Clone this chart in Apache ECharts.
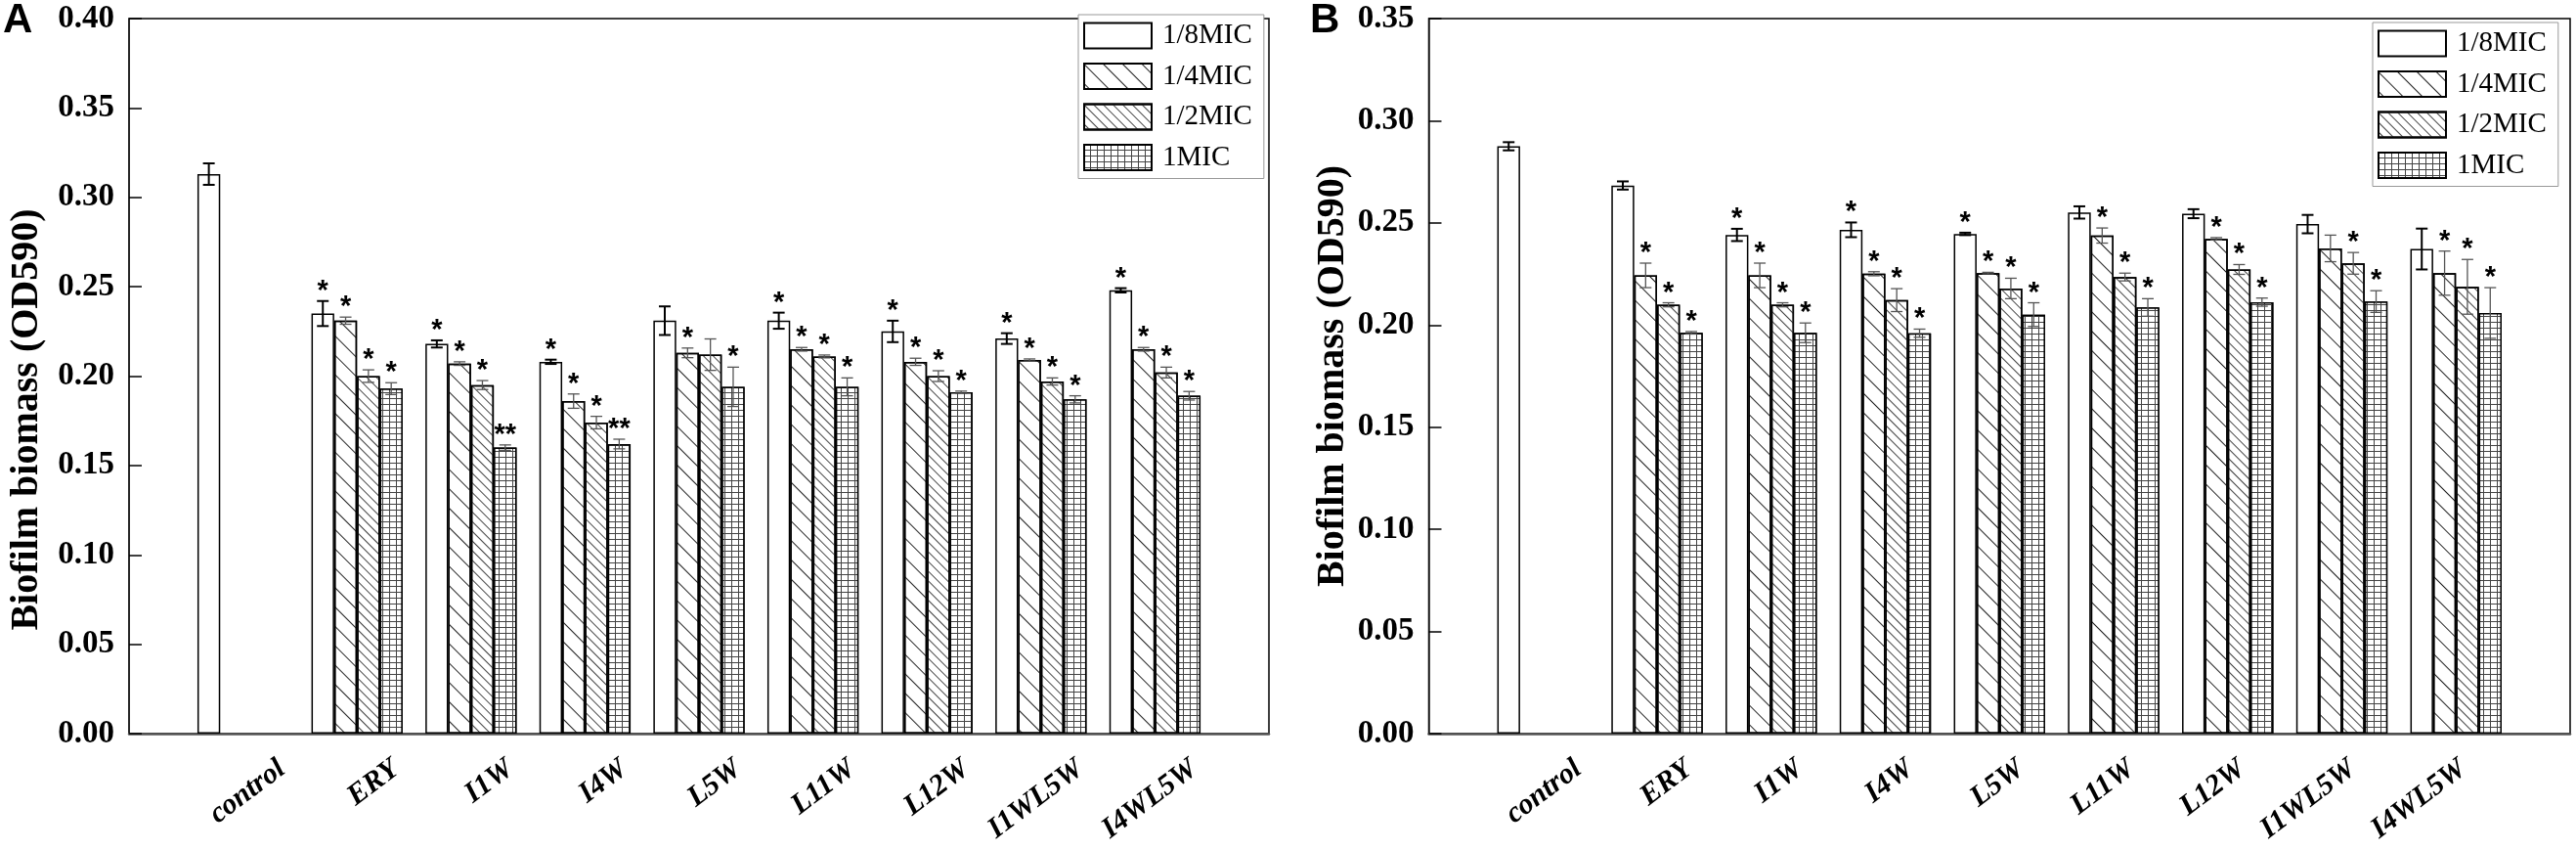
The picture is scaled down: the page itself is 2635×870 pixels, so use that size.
<!DOCTYPE html>
<html>
<head>
<meta charset="utf-8">
<script src="https://cdn.jsdelivr.net/npm/echarts@6/dist/echarts.min.js"></script>
<style>
  html, body { margin: 0; padding: 0; background: #fff; }
  #chart { width: 2635px; height: 870px; }
</style>
</head>
<body>
<div id="chart"></div>
<script>
const chart = echarts.init(document.getElementById('chart'));

// categories and series names
const categories = ['control', 'ERY', 'I1W', 'I4W', 'L5W', 'L11W', 'L12W', 'I1WL5W', 'I4WL5W'];
const micNames = ['1/8MIC', '1/4MIC', '1/2MIC', '1MIC'];

// panel A: means
const mic8A = [0.313, 0.235, 0.218, 0.208, 0.231, 0.231, 0.225, 0.221, 0.248];
const mic4A = [null, 0.231, 0.207, 0.186, 0.213, 0.215, 0.208, 0.209, 0.215];
const mic2A = [null, 0.200, 0.195, 0.174, 0.212, 0.211, 0.200, 0.197, 0.202];
const mic1A = [null, 0.193, 0.160, 0.162, 0.194, 0.194, 0.191, 0.187, 0.189];
// panel A: error bars
const err8A = [0.006, 0.007, 0.002, 0.0012, 0.008, 0.0045, 0.006, 0.003, 0.0012];
const err4A = [null, 0.002, 0.001, 0.004, 0.0027, 0.001, 0.002, 0.0006, 0.001];
const err2A = [null, 0.0035, 0.0025, 0.0035, 0.0088, 0.0008, 0.003, 0.002, 0.003];
const err1A = [null, 0.0033, 0.0015, 0.0027, 0.011, 0.005, 0.0006, 0.002, 0.0024];
// panel A: significance marks
const star8A = ['', '*', '*', '*', '', '*', '*', '*', '*'];
const star4A = ['', '*', '*', '*', '*', '*', '*', '*', '*'];
const star2A = ['', '*', '*', '*', '', '*', '*', '*', '*'];
const star1A = ['', '*', '**', '**', '*', '*', '*', '*', '*'];

// panel B: means
const mic8B = [0.2875, 0.2683, 0.2441, 0.2466, 0.2446, 0.2551, 0.2545, 0.2494, 0.2372];
const mic4B = [null, 0.2243, 0.2243, 0.2251, 0.2254, 0.2438, 0.2422, 0.2375, 0.2254];
const mic2B = [null, 0.2099, 0.2099, 0.2122, 0.2179, 0.2235, 0.2272, 0.2302, 0.2187];
const mic1B = [null, 0.1962, 0.1962, 0.1960, 0.2051, 0.2086, 0.2112, 0.2115, 0.2059];
// panel B: error bars
const err8B = [0.002, 0.002, 0.003, 0.0036, 0.0006, 0.003, 0.0022, 0.0045, 0.010];
const err4B = [null, 0.006, 0.006, 0.001, 0.0004, 0.0037, 0.0006, 0.0065, 0.0108];
const err2B = [null, 0.001, 0.001, 0.0056, 0.005, 0.0019, 0.0024, 0.0053, 0.0134];
const err1B = [null, 0.0006, 0.0048, 0.002, 0.0058, 0.0043, 0.002, 0.0053, 0.0124];
// panel B: significance marks
const star8B = ['', '', '*', '*', '*', '', '', '', ''];
const star4B = ['', '*', '*', '*', '*', '*', '*', '', '*'];
const star2B = ['', '*', '*', '*', '*', '*', '*', '*', '*'];
const star1B = ['', '*', '*', '*', '*', '*', '*', '*', '*'];

// y axis ticks
const yMaxA = 0.40;
const yMaxB = 0.35;
const yStep = 0.05;

// one empty slot on each side of the categories
const slots = [''].concat(categories, ['']);
function pad(arr) {
  return ['-'].concat(arr.map(v => (v == null ? '-' : v)), ['-']);
}

const serif = 'Liberation Serif';

// fill patterns
const decals = [
  null,
  { symbol: 'rect', symbolSize: 1, color: '#222', dashArrayX: [1, 0], dashArrayY: [1, 13], rotation: Math.PI / 4 },
  { symbol: 'rect', symbolSize: 1, color: '#444', dashArrayX: [1, 0], dashArrayY: [1, 6], rotation: Math.PI / 4 },
  { symbol: 'rect', symbolSize: 1, color: '#fff', backgroundColor: '#444', dashArrayX: [6, 1], dashArrayY: [5, 1] }
];

function barSeries(k, axis, values) {
  const style = { color: '#fff', borderColor: '#000', borderWidth: 1.5 };
  if (decals[k]) style.decal = decals[k];
  return {
    name: micNames[k],
    type: 'bar',
    xAxisIndex: axis,
    yAxisIndex: axis,
    data: pad(values),
    barGap: '0%',
    barCategoryGap: '20%',
    itemStyle: style,
    emphasis: { disabled: true },
    z: 2
  };
}

function errSeries(k, axis, means, errs, stars) {
  const items = [];
  means.forEach((m, i) => {
    if (m != null) items.push({ value: [i + 1, m, errs[i]], star: stars[i] });
  });
  const col = k === 0 ? '#000' : '#555';
  const lw = k === 0 ? 2 : 1.3;
  return {
    type: 'custom',
    xAxisIndex: axis,
    yAxisIndex: axis,
    data: items.map(d => d.value),
    silent: true,
    z: 5,
    renderItem: function (params, api) {
      const ci = api.value(0);
      const m = api.value(1);
      const e = api.value(2);
      const band = api.size([1, 0])[0];
      const bw = band * 0.8 / 4;
      const cx = api.coord([ci, m])[0] - 2 * bw + (k + 0.5) * bw;
      const yTop = api.coord([ci, m + e])[1];
      const yBot = api.coord([ci, m - e])[1];
      const cap = 6;
      const children = [
        { type: 'line', shape: { x1: cx, y1: yTop, x2: cx, y2: yBot }, style: { stroke: col, lineWidth: lw } },
        { type: 'line', shape: { x1: cx - cap, y1: yTop, x2: cx + cap, y2: yTop }, style: { stroke: col, lineWidth: lw } },
        { type: 'line', shape: { x1: cx - cap, y1: yBot, x2: cx + cap, y2: yBot }, style: { stroke: col, lineWidth: lw } }
      ];
      const s = items[params.dataIndex].star;
      if (s) {
        children.push({
          type: 'text',
          style: {
            text: s, x: cx, y: yTop - 10, align: 'center', verticalAlign: 'middle',
            font: 'bold 29px "Liberation Sans"', fill: '#000'
          }
        });
      }
      return { type: 'group', children: children };
    }
  };
}

function mainXAxis(grid) {
  return {
    type: 'category', gridIndex: grid, data: slots, boundaryGap: false,
    axisLine: { show: true, lineStyle: { color: '#555', width: 2.5 } },
    axisTick: { show: false },
    axisLabel: { show: false },
    splitLine: { show: false }
  };
}
function labelXAxis(grid) {
  return {
    type: 'category', gridIndex: grid, data: slots, boundaryGap: false,
    axisLine: { show: false }, axisTick: { show: false }, splitLine: { show: false },
    axisLabel: {
      interval: 0, rotate: 37, margin: 33, color: '#000',
      fontFamily: serif, fontWeight: 'bold', fontStyle: 'italic', fontSize: 30
    }
  };
}
function mainYAxis(grid, max, gap, namePad) {
  return {
    type: 'value', gridIndex: grid, min: 0, max: max, interval: yStep,
    name: 'Biofilm biomass (OD590)', nameLocation: 'middle', nameGap: gap, nameRotate: 90,
    nameTextStyle: { fontFamily: serif, fontWeight: 'bold', fontSize: 40, color: '#000', padding: namePad },
    axisLine: { show: true, lineStyle: { color: '#222', width: 1.5 } },
    axisTick: { show: true, inside: true, length: 13, lineStyle: { color: '#000', width: 1.5 } },
    axisLabel: {
      margin: 15, color: '#000', fontFamily: serif, fontWeight: 'bold', fontSize: 33,
      formatter: v => v.toFixed(2)
    },
    splitLine: { show: false }
  };
}
function hiddenYAxis(grid) {
  return { type: 'value', gridIndex: grid, show: false };
}

function legendAt(left, top) {
  return {
    orient: 'vertical', left: left, top: top, data: micNames, icon: 'rect',
    itemWidth: 69, itemHeight: 26, itemGap: 12.5, padding: [7, 12, 7, 5],
    borderColor: '#999', borderWidth: 1, backgroundColor: '#fff',
    selectedMode: false,
    textStyle: { fontFamily: serif, fontSize: 29, color: '#000', padding: [0, 0, 0, 6] }
  };
}

const gridTop = 19;
const gridH = 731;

const option = {
  backgroundColor: '#fff',
  animation: false,
  title: [
    { text: 'A', left: 3, top: 0, padding: 0, textStyle: { fontFamily: 'Liberation Sans', fontWeight: 'bold', fontSize: 42, color: '#000' } },
    { text: 'B', left: 1340, top: 0, padding: 0, textStyle: { fontFamily: 'Liberation Sans', fontWeight: 'bold', fontSize: 42, color: '#000' } }
  ],
  legend: [legendAt(1103, 15), legendAt(2427, 23)],
  grid: [
    { left: 132, top: gridTop, width: 1166, height: gridH, show: true, borderColor: '#000', borderWidth: 1.5, backgroundColor: 'transparent' },
    { left: 172, top: gridTop, width: 1166, height: gridH },
    { left: 1461.5, top: gridTop, width: 1167.5, height: gridH, show: true, borderColor: '#000', borderWidth: 1.5, backgroundColor: 'transparent' },
    { left: 1501.5, top: gridTop, width: 1167.5, height: gridH }
  ],
  xAxis: [mainXAxis(0), labelXAxis(1), mainXAxis(2), labelXAxis(3)],
  yAxis: [
    mainYAxis(0, yMaxA, 84, [0, 89, 0, 0]),
    hiddenYAxis(1),
    mainYAxis(2, yMaxB, 78, 0),
    hiddenYAxis(3)
  ],
  series: [
    barSeries(0, 0, mic8A), barSeries(1, 0, mic4A), barSeries(2, 0, mic2A), barSeries(3, 0, mic1A),
    errSeries(0, 0, mic8A, err8A, star8A), errSeries(1, 0, mic4A, err4A, star4A),
    errSeries(2, 0, mic2A, err2A, star2A), errSeries(3, 0, mic1A, err1A, star1A),
    barSeries(0, 2, mic8B), barSeries(1, 2, mic4B), barSeries(2, 2, mic2B), barSeries(3, 2, mic1B),
    errSeries(0, 2, mic8B, err8B, star8B), errSeries(1, 2, mic4B, err4B, star4B),
    errSeries(2, 2, mic2B, err2B, star2B), errSeries(3, 2, mic1B, err1B, star1B)
  ]
};

chart.setOption(option);

window.addEventListener('resize', () => {
  chart.resize();
});
</script>
</body>
</html>
